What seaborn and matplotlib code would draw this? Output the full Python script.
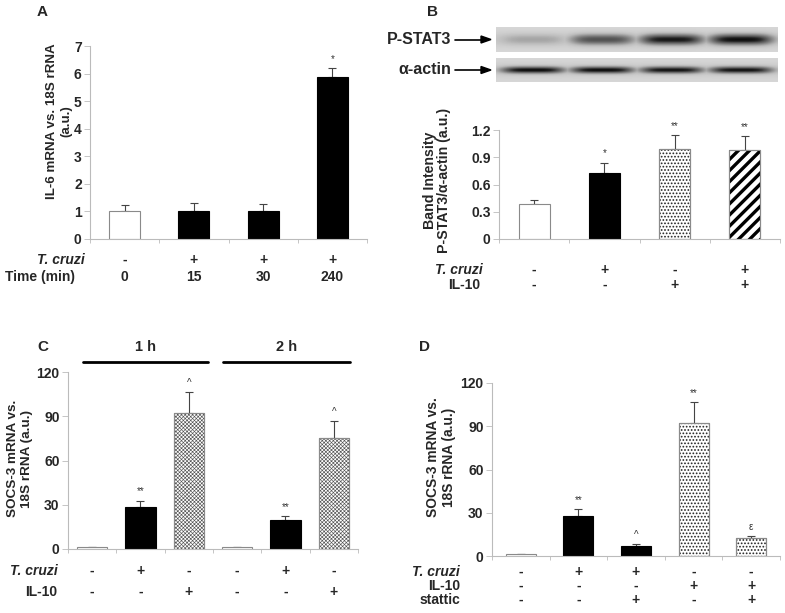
import numpy as np
import pandas as pd
import seaborn as sns
import matplotlib.pyplot as plt
import matplotlib.transforms as mtransforms
from matplotlib.patches import Rectangle

# ---- data ----
a_time = ["0", "15", "30", "240"]
a_tcruzi = ["-", "+", "+", "+"]
a_mean = [1.0, 1.02, 1.0, 5.87]
a_err = [0.24, 0.27, 0.28, 0.33]
a_marks = ["", "", "", "*"]
a_styles = ["white", "black", "black", "black"]

b_tcruzi = ["-", "+", "-", "+"]
b_il10 = ["-", "-", "+", "+"]
b_mean = [0.38, 0.73, 0.99, 0.98]
b_err = [0.05, 0.11, 0.15, 0.15]
b_marks = ["", "*", "**", "**"]
b_styles = ["white", "black", "dots", "stripes"]
blot_pstat3 = [0.45, 0.75, 0.92, 0.95]
blot_actin = [0.95, 0.95, 0.93, 0.93]

c_tcruzi = ["-", "+", "-", "-", "+", "-"]
c_il10 = ["-", "-", "+", "-", "-", "+"]
c_mean = [1.2, 28.5, 92.2, 1.2, 19.4, 75.5]
c_err = [0, 4.3, 14.0, 0, 3.0, 11.0]
c_marks = ["", "**", "^", "", "**", "^"]
c_styles = ["white", "black", "checks", "white", "black", "checks"]
c_groups = ["1 h", "2 h"]

d_tcruzi = ["-", "+", "+", "-", "-"]
d_il10 = ["-", "-", "-", "+", "+"]
d_stattic = ["-", "-", "+", "-", "+"]
d_mean = [1.4, 27.9, 6.7, 92.5, 12.2]
d_err = [0, 4.4, 1.3, 14.0, 1.8]
d_marks = ["", "**", "^", "**", "ε"]
d_styles = ["white", "black", "black", "dots", "dots"]

W, H = 785, 613
sns.set_style("white")
plt.rcParams["font.family"] = ["Liberation Sans", "DejaVu Sans"]
plt.rcParams["font.weight"] = "bold"

fig = plt.figure(figsize=(W / 100, H / 100), dpi=100)


def fx(x):
    return x / W


def fy(y):
    return 1 - y / H


def add_ax(left, top, right, bottom):
    return fig.add_axes([fx(left), fy(bottom), (right - left) / W, (bottom - top) / H])


GREY = "#8a8a8a"
HATCH = {"dots": (".....", "#222222", 0.8),
         "stripes": ("///", "black", 2.4),
         "checks": ("xxxxxxxxx", "#555555", 0.45)}


def bar_panel(ax, means, errs, styles, marks, width, ylim, yticks, yticklabels):
    n = len(means)
    df = pd.DataFrame({"cond": [str(i) for i in range(n)], "val": means})
    face = ["black" if s == "black" else "white" for s in styles]
    sns.barplot(data=df, x="cond", y="val", hue="cond", palette=face, legend=False,
                width=width, errorbar=None, ax=ax, zorder=2)
    for p, s in zip(ax.patches, styles):
        p.set_edgecolor("black" if s == "black" else GREY)
        p.set_linewidth(0.8)
        if s in HATCH:
            pat, col, lw = HATCH[s]
            with plt.rc_context({"hatch.linewidth": lw}):
                r = Rectangle((p.get_x(), p.get_y()), p.get_width(), p.get_height(),
                              fill=False, hatch=pat, edgecolor=col, linewidth=0, zorder=2.5)
                if hasattr(r, "set_hatch_linewidth"):
                    r.set_hatch_linewidth(lw)
            ax.add_patch(r)
            o = Rectangle((p.get_x(), p.get_y()), p.get_width(), p.get_height(),
                          fill=False, edgecolor=GREY, linewidth=0.8, zorder=3)
            ax.add_patch(o)
    x = np.arange(n)
    ax.errorbar(x, means, yerr=[np.zeros(n), errs], fmt="none", ecolor="#444444",
                elinewidth=0.8, capsize=3, capthick=0.8, zorder=1)
    for i in range(n):
        if marks[i]:
            ax.annotate(marks[i], (i, means[i] + errs[i]), xytext=(0, 3),
                        textcoords="offset points", ha="center", va="bottom",
                        fontsize=7, fontweight="normal", color="#333333")
    ax.set_xlim(-0.5, n - 0.5)
    ax.set_ylim(*ylim)
    ax.set_yticks(yticks)
    ax.set_yticklabels(yticklabels, fontsize=10, fontweight="bold")
    ax.set_xticks([])
    ax.set_xticks(np.arange(n + 1) - 0.5, minor=True)
    ax.tick_params(axis="x", which="minor", bottom=True, length=3, color="#bbbbbb", width=0.6)
    ax.tick_params(axis="y", left=True, length=4, color="#bbbbbb", width=0.6, pad=2)
    ax.set_xlabel("")
    for side in ["top", "right"]:
        ax.spines[side].set_visible(False)
    for side in ["left", "bottom"]:
        ax.spines[side].set_color("#bbbbbb")
        ax.spines[side].set_linewidth(0.8)
    ax.patch.set_alpha(0)


def row_labels(ax, rows):
    tr = mtransforms.blended_transform_factory(ax.transData, fig.transFigure)
    for name, vals, y, italic, xl, ha in rows:
        fig.text(fx(xl), fy(y), name, ha=ha, va="center", fontsize=10,
                 fontweight="bold", fontstyle="italic" if italic else "normal")
        for i, v in enumerate(vals):
            ax.text(i, fy(y), v, transform=tr, ha="center", va="center",
                    fontsize=10, fontweight="bold")


# ---- panel A ----
axA = add_ax(90, 46, 367, 239)
bar_panel(axA, a_mean, a_err, a_styles, a_marks, 0.45, (0, 7), range(8),
          [str(i) for i in range(8)])
axA.set_ylabel("IL-6 mRNA vs. 18S rRNA\n(a.u.)", fontsize=9.6, fontweight="bold",
               linespacing=1.25)
axA.yaxis.set_label_coords(-0.065, 0.61)
row_labels(axA, [("T. cruzi", a_tcruzi, 260, True, 37, "left"),
                 ("Time (min)", a_time, 277, False, 5, "left")])
fig.text(fx(42), fy(12), "A", ha="center", va="center", fontsize=11, fontweight="bold")

# ---- panel B ----
axB = add_ax(499, 130, 780, 239)
bar_panel(axB, b_mean, b_err, b_styles, b_marks, 0.44, (0, 1.2),
          [0, 0.3, 0.6, 0.9, 1.2], ["0", "0.3", "0.6", "0.9", "1.2"])
axB.set_ylabel("Band Intensity\nP-STAT3/α-actin (a.u.)", fontsize=10.2,
               fontweight="bold", linespacing=1.0)
axB.yaxis.set_label_coords(-0.17, 0.54)
row_labels(axB, [("T. cruzi", b_tcruzi, 270, True, 483, "right"),
                 ("IL-10", b_il10, 285, False, 480, "right")])
fig.text(fx(433), fy(12), "B", ha="center", va="center", fontsize=11, fontweight="bold")

# western blot strips
lane_x = np.linspace(0.13, 0.87, 4)
xx = np.linspace(0, 1, 282)
for (top, bottom, levels, thick, name) in [(27, 52, blot_pstat3, 0.42, "P-STAT3"),
                                            (58, 82, blot_actin, 0.28, "α-actin")]:
    axb = add_ax(496, top, 778, bottom)
    yy = np.linspace(-1, 1, bottom - top)[:, None]
    base = 0.26 + 0.06 * np.exp(-(yy / 0.6) ** 2)
    img = np.tile(base, (1, len(xx)))
    for cx, lev in zip(lane_x, levels):
        prof = np.exp(-((xx - cx) / 0.11) ** 4)[None, :]
        band = np.exp(-(yy / thick) ** 2)
        img = np.maximum(img, base + (lev - base) * prof * band)
    axb.imshow(img, cmap="Greys", vmin=0, vmax=1, aspect="auto", interpolation="bilinear")
    axb.axis("off")
    ymid = (top + bottom) / 2
    fig.text(fx(451), fy(ymid), name, ha="right", va="center", fontsize=11.5,
             fontweight="bold")
    fig.add_artist(plt.Line2D([fx(455), fx(484)], [fy(ymid), fy(ymid)], color="black", lw=1.2))
    fig.patches.append(plt.Polygon([[fx(481), fy(ymid - 3.5)], [fx(491), fy(ymid)],
                                    [fx(481), fy(ymid + 3.5)]], closed=True, color="black",
                                   transform=fig.transFigure, figure=fig))

# ---- panel C ----
axC = add_ax(68, 372, 358, 549)
bar_panel(axC, c_mean, c_err, c_styles, c_marks, 0.63, (0, 120),
          [0, 30, 60, 90, 120], ["0", "30", "60", "90", "120"])
axC.set_ylabel("SOCS-3 mRNA vs.\n18S rRNA (a.u.)", fontsize=9.7, fontweight="bold",
               linespacing=1.2)
axC.yaxis.set_label_coords(-0.12, 0.51)
row_labels(axC, [("T. cruzi", c_tcruzi, 571, True, 58, "right"),
                 ("IL-10", c_il10, 592, False, 57, "right")])
fig.text(fx(43), fy(347), "C", ha="center", va="center", fontsize=11, fontweight="bold")
# group brackets above the bars (pixel spans of the lines)
for name, (x0, x1) in zip(c_groups, [(83, 208), (223, 350)]):
    fig.add_artist(plt.Line2D([fx(x0), fx(x1)], [fy(362), fy(362)], color="black", lw=2))
    fig.text(fx((x0 + x1) / 2), fy(347), name, ha="center", va="center",
             fontsize=10.5, fontweight="bold")

# ---- panel D ----
axD = add_ax(492, 383, 780, 556)
bar_panel(axD, d_mean, d_err, d_styles, d_marks, 0.52, (0, 120),
          [0, 30, 60, 90, 120], ["0", "30", "60", "90", "120"])
axD.set_ylabel("SOCS-3 mRNA vs.\n18S rRNA (a.u.)", fontsize=9.9, fontweight="bold",
               linespacing=1.2)
axD.yaxis.set_label_coords(-0.125, 0.57)
row_labels(axD, [("T. cruzi", d_tcruzi, 572, True, 460, "right"),
                 ("IL-10", d_il10, 586, False, 460, "right"),
                 ("stattic", d_stattic, 600, False, 460, "right")])
fig.text(fx(425), fy(347), "D", ha="center", va="center", fontsize=11, fontweight="bold")

fig.savefig("out.png", dpi=100)
